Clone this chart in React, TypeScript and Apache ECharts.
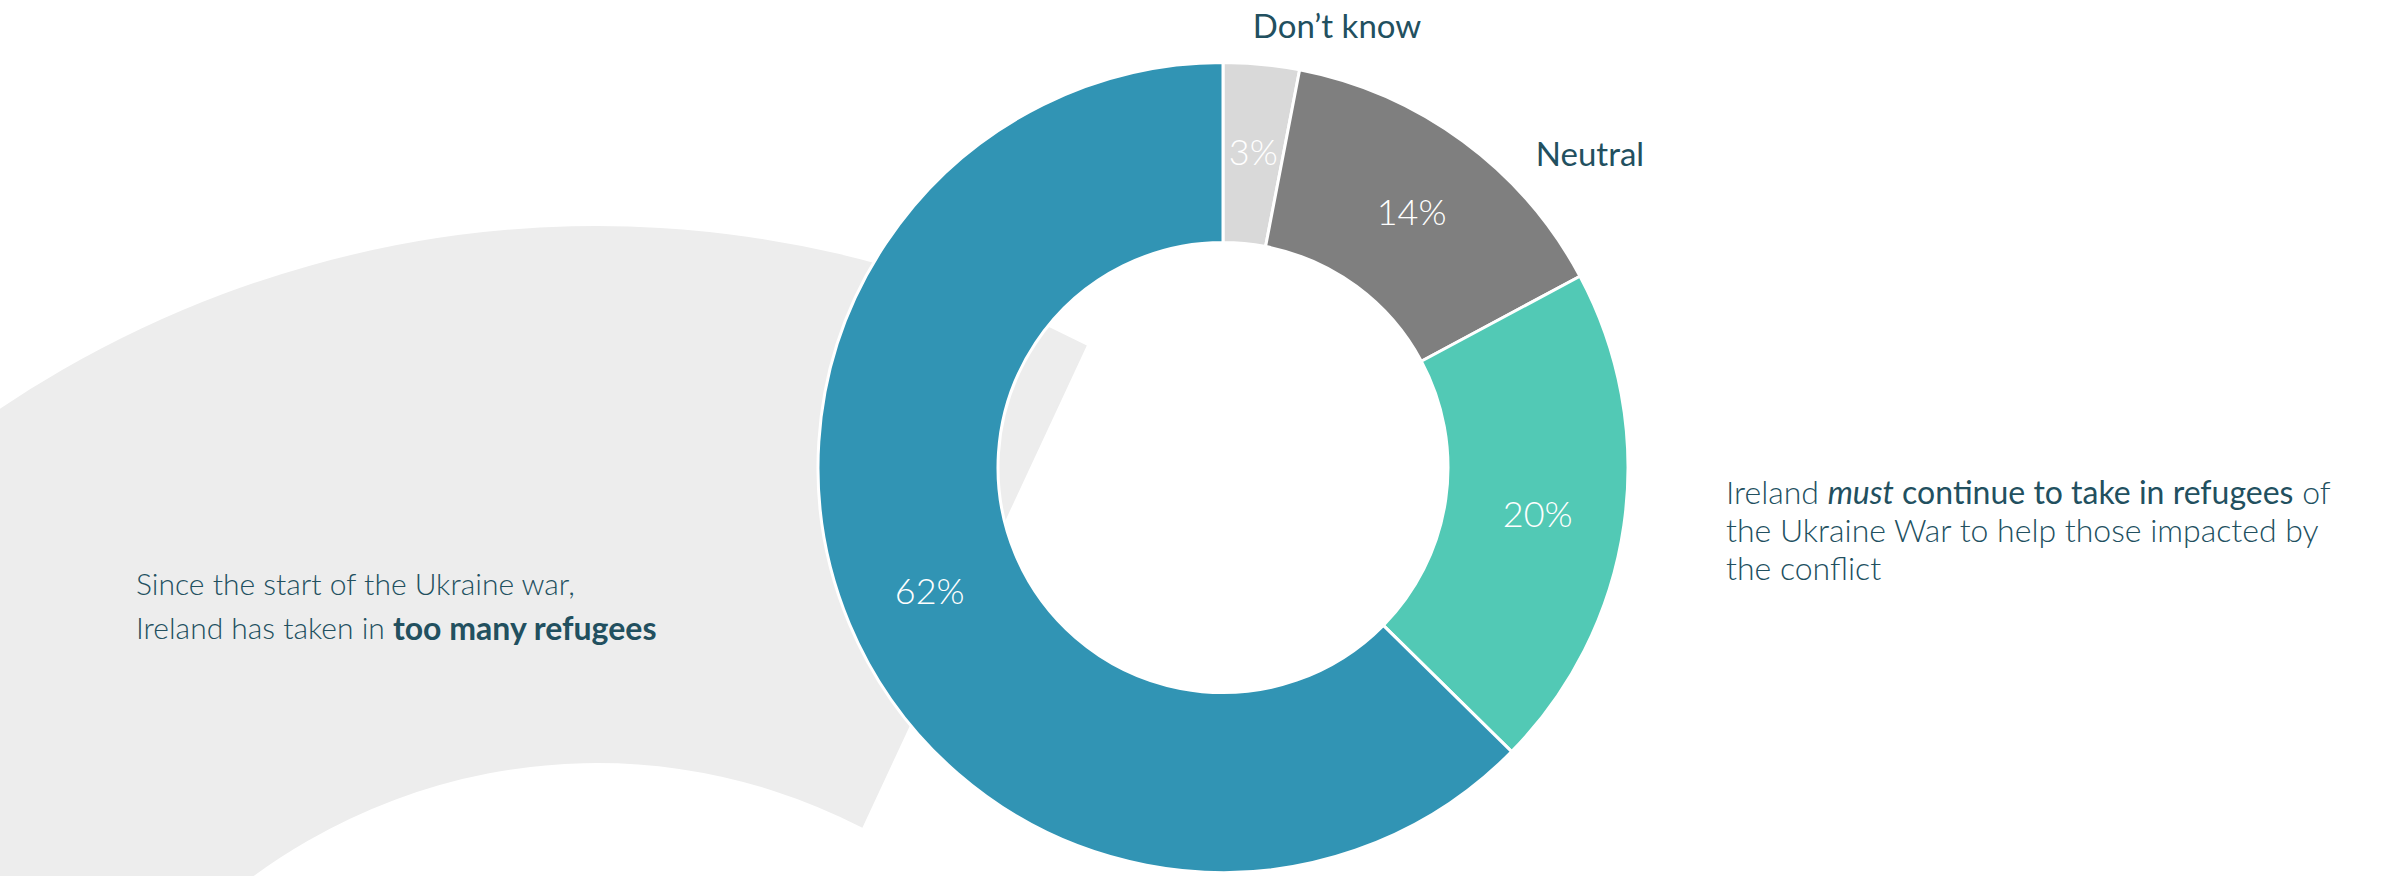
import React, { useEffect, useRef } from "react";
import * as echarts from "echarts";

const categories = [
  "Don't know",
  "Neutral",
  "Ireland must continue to take in refugees",
  "Ireland has taken in too many refugees",
];
const values = [3, 14, 20, 62];
const colors = ["#D9D9D9", "#7F7F7F", "#52C9B5", "#3194B4"];

const TEXT = "#22505F";
const FONT = "Lato";

export default function App() {
  const ref = useRef<HTMLDivElement>(null);
  useEffect(() => {
    if (!ref.current) return;
    const chart = echarts.init(ref.current, null, { renderer: "svg" });
    const deg = Math.PI / 180;
    chart.setOption({
      animation: false,
      backgroundColor: "#FFFFFF",
      graphic: [
        {
          type: "group",
          x: 597,
          y: 1398,
          scaleX: 0.95,
          z: -10,
          silent: true,
          children: [
            {
              type: "sector",
              shape: {
                cx: 0,
                cy: 0,
                r: 1172,
                r0: 635,
                startAngle: -210 * deg,
                endAngle: -63.9 * deg,
                clockwise: true,
              },
              style: { fill: "#EDEDED" },
            },
          ],
        },
        {
          type: "text",
          x: 1337,
          y: 25,
          style: {
            text: "Don\u2019t know",
            fill: TEXT,
            font: `400 33px ${FONT}`,
            textAlign: "center",
            textVerticalAlign: "middle",
          },
        },
        {
          type: "text",
          x: 1590,
          y: 153,
          style: {
            text: "Neutral",
            fill: TEXT,
            font: `400 33px ${FONT}`,
            textAlign: "center",
            textVerticalAlign: "middle",
          },
        },
        {
          type: "text",
          x: 136,
          y: 605,
          style: {
            text: "{l|Since the start of the Ukraine war,}\n{l|Ireland has taken in }{b|too many refugees}",
            fill: TEXT,
            textAlign: "left",
            textVerticalAlign: "middle",
            rich: {
              l: { fontFamily: FONT, fontWeight: 300, fontSize: 30, lineHeight: 44, fill: TEXT },
              b: { fontFamily: FONT, fontWeight: 700, fontSize: 32, lineHeight: 44, fill: TEXT },
            },
          },
        },
        {
          type: "text",
          x: 1726,
          y: 529,
          style: {
            text:
              "{l|Ireland }{bi|must}{b| continue to take in refugees}{l| of}\n{l|the Ukraine War to help those impacted by}\n{l|the conflict}",
            fill: TEXT,
            textAlign: "left",
            textVerticalAlign: "middle",
            rich: {
              l: { fontFamily: FONT, fontWeight: 300, fontSize: 32, lineHeight: 38, fill: TEXT },
              b: { fontFamily: FONT, fontWeight: 400, fontSize: 32, lineHeight: 38, fill: TEXT },
              bi: { fontFamily: FONT, fontWeight: 400, fontStyle: "italic", fontSize: 32, lineHeight: 38, fill: TEXT },
            },
          },
        },
      ],
      series: [
        {
          type: "pie",
          center: [1223, 467.5],
          radius: [225, 405],
          startAngle: 90,
          clockwise: true,
          z: 2,
          silent: true,
          itemStyle: { borderColor: "#FFFFFF", borderWidth: 3 },
          label: {
            show: true,
            position: "inside",
            color: "#FFFFFF",
            fontFamily: FONT,
            fontWeight: 300,
            fontSize: 36,
            formatter: (p: any) => `${p.value}%`,
          },
          labelLine: { show: false },
          emphasis: { disabled: true },
          data: categories.map((name, i) => ({
            name,
            value: values[i],
            itemStyle: { color: colors[i] },
          })),
        },
      ],
    });
    return () => chart.dispose();
  }, []);
  return (
    <div
      ref={ref}
      style={{ position: "absolute", left: 0, top: 0, width: 2399, height: 876 }}
    />
  );
}
